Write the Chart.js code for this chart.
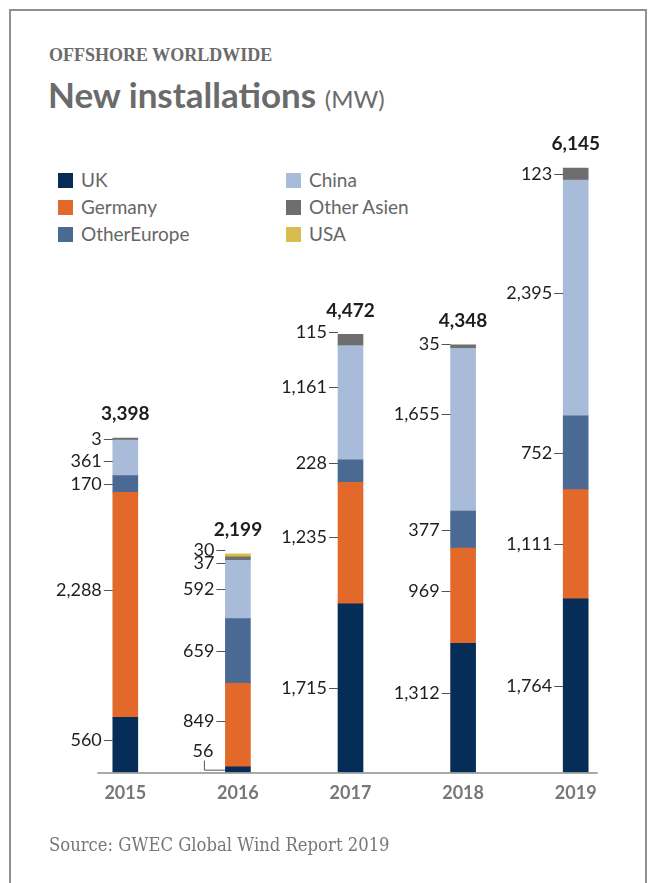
<!DOCTYPE html>
<html>
<head>
<meta charset="utf-8">
<script src="https://cdn.jsdelivr.net/npm/chart.js@4.4.1/dist/chart.umd.min.js"></script>
<style>
  body { margin: 0; width: 648px; height: 883px; position: relative; background: #fff; overflow: hidden; font-family: Lato, sans-serif; }
  #frame { position: absolute; left: 9px; top: 9px; width: 634px; height: 900px; border: 2px solid #8f8f8f; border-bottom: none; }
  #kicker { position: absolute; left: 49px; top: 45px; font: bold 18px "Liberation Serif", serif; color: #6b6b6b; }
  #title { position: absolute; left: 48px; top: 73px; font: bold 35px Lato, sans-serif; color: #6b6b6b; }
  #title span { font-weight: normal; font-size: 24px; }
  .item { position: absolute; font-size: 19px; color: #666; line-height: 22px; }
  .sw { position: absolute; left: -23px; top: 4px; width: 15px; height: 15px; }
  #source { position: absolute; left: 49px; top: 834px; font: 18.3px "DejaVu Serif Condensed", "DejaVu Serif", serif; color: #777; }
  #wrap { position: absolute; left: 0; top: 0; width: 648px; height: 883px; }
</style>
</head>
<body>
<div id="frame"></div>
<div id="kicker">OFFSHORE WORLDWIDE</div>
<div id="title">New installations <span>(MW)</span></div>
<div id="legend"></div>
<div id="wrap"><canvas id="chart" width="648" height="883"></canvas></div>
<div id="source">Source: GWEC Global Wind Report 2019</div>
<script>
// values (MW)
var years = ['2015', '2016', '2017', '2018', '2019'];
var uk = [560, 56, 1715, 1312, 1764];
var germany = [2288, 849, 1235, 969, 1111];
var otherEurope = [170, 659, 228, 377, 752];
var china = [361, 592, 1161, 1655, 2395];
var otherAsia = [3, 37, 115, 35, 123];
var usa = [null, 30, null, null, null];
var totals = [3398, 2199, 4472, 4348, 6145];

var names = ['UK', 'Germany', 'OtherEurope', 'China', 'Other Asien', 'USA'];
var colors = ['#062d57', '#e2692a', '#4a6a93', '#a8bbd8', '#6e6e6e', '#d9bc4f'];
var series = [uk, germany, otherEurope, china, otherAsia, usa];

// legend, two columns of three
var legend = document.getElementById('legend');
names.forEach(function (n, i) {
    var d = document.createElement('div');
    d.className = 'item';
    d.style.left = (i < 3 ? 81 : 309) + 'px';
    d.style.top = (169 + (i % 3) * 27) + 'px';
    d.innerHTML = '<div class="sw" style="background:' + colors[i] + '"></div>' + n;
    legend.appendChild(d);
});

// small vertical nudges for labels that are not centred on their segment
var shift = { '0-0': -5, '1-0': -15, '3-0': 3, '1-1': -4, '4-1': 4, '5-1': -5,
              '1-2': -6, '2-2': -8, '3-2': -16, '4-2': -8,
              '0-3': -15, '1-3': -5, '3-3': -16, '4-3': -3, '3-4': -5 };

var fmt = function (v) { return v.toLocaleString('en-US'); };

var valueLabels = {
    id: 'valueLabels',
    afterDatasetsDraw: function (chart) {
        var c = chart.ctx;
        var area = chart.chartArea;
        var xs = chart.scales.x;
        c.save();
        // base line
        c.strokeStyle = '#8c8c8c';
        c.lineWidth = 1.5;
        c.beginPath();
        c.moveTo(xs.getPixelForValue(0) - 28, area.bottom + 0.5);
        c.lineTo(xs.getPixelForValue(years.length - 1) + 22, area.bottom + 0.5);
        c.stroke();

        c.font = '18px Lato';
        c.fillStyle = '#1e1e1e';
        c.strokeStyle = '#555';
        c.lineWidth = 1;
        c.textAlign = 'right';
        c.textBaseline = 'middle';
        var tops = [];
        chart.data.datasets.forEach(function (ds, i) {
            chart.getDatasetMeta(i).data.forEach(function (el, j) {
                var v = ds.data[j];
                if (!v) return;
                tops[j] = tops[j] === undefined ? el.y : Math.min(tops[j], el.y);
                var left = el.x - el.width / 2;
                var key = i + '-' + j;
                var mid = (el.y + el.base) / 2;
                if (key === '0-1') {
                    // tiny UK slice in 2016 gets an elbow leader
                    c.beginPath();
                    c.moveTo(left, mid + 0.5);
                    c.lineTo(left - 21, mid + 0.5);
                    c.lineTo(left - 21, mid - 9);
                    c.stroke();
                    c.fillText(fmt(v), left - 12, mid - 18);
                    return;
                }
                var y = Math.round(mid + (shift[key] || 0)) + 0.5;
                c.beginPath();
                c.moveTo(left - 9, y);
                c.lineTo(left, y);
                c.stroke();
                c.fillText(fmt(v), left - 11, y);
            });
        });
        // totals above the stacks
        c.font = 'bold 19px Lato';
        c.textAlign = 'center';
        totals.forEach(function (t, j) {
            c.fillText(fmt(t), xs.getPixelForValue(j), tops[j] - 24);
        });
        c.restore();
    }
};

var ctx = document.getElementById('chart').getContext('2d');
var chart = new Chart(ctx, {
    type: 'bar',
    data: {
        labels: years,
        datasets: series.map(function (d, i) {
            return {
                label: names[i],
                data: d,
                backgroundColor: colors[i],
                borderWidth: 0,
                barThickness: 25,
                minBarLength: i === 4 ? 2 : 0
            };
        })
    },
    options: {
        responsive: false,
        animation: false,
        layout: { padding: { left: 69, right: 16, top: 84, bottom: 69 } },
        plugins: { legend: { display: false }, tooltip: { enabled: false } },
        scales: {
            x: {
                stacked: true,
                grid: { display: false, drawTicks: false },
                border: { display: false },
                ticks: { color: '#777', font: { family: 'Lato', size: 18, weight: 'bold' }, padding: 10 }
            },
            y: { stacked: true, display: false, min: 0, max: 7000 }
        }
    },
    plugins: [valueLabels]
});
</script>
</body>
</html>
